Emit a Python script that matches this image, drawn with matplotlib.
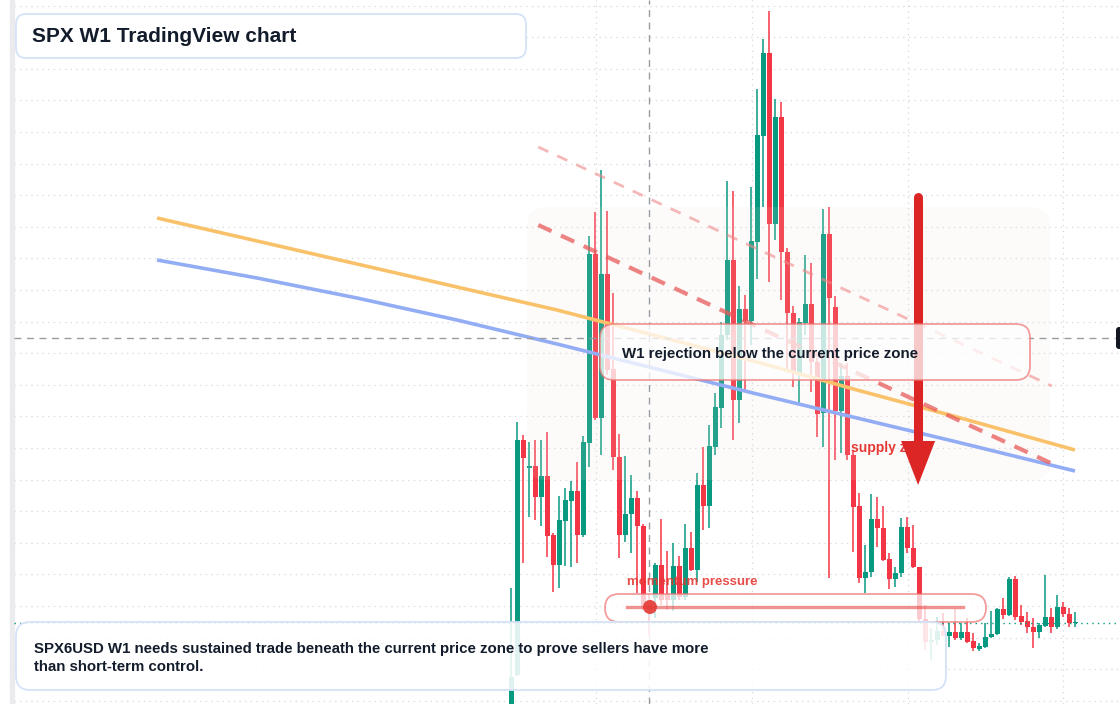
import numpy as np
import matplotlib.pyplot as plt
from matplotlib.patches import FancyBboxPatch, Circle, Polygon

plt.rcParams["font.family"] = ["Liberation Sans", "DejaVu Sans"]

# SPX weekly candles (price units), left to right
opens = [5984, 6029, 6264, 6236, 6238, 6207, 6228, 6169, 6139, 6183,
         6203, 6213, 6169, 6261, 6450, 6286, 6430, 6335, 6247, 6169,
         6190, 6206, 6178, 6104, 6106, 6139, 6110, 6104, 6138, 6107,
         6156, 6134, 6219, 6198, 6257, 6296, 6369, 6444, 6304, 6395,
         6383, 6462, 6568, 6651, 6480, 6587, 6452, 6391, 6331, 6381,
         6400, 6342, 6291, 6470, 6397, 6293, 6328, 6249, 6198, 6126,
         6132, 6185, 6176, 6145, 6125, 6131, 6177, 6156, 6137, 6085,
         6062, 6064, 6073, 6068, 6072, 6066, 6072, 6063, 6055, 6057,
         6067, 6070, 6095, 6089, 6125, 6088, 6083, 6077, 6072, 6078,
         6087, 6077, 6097, 6090, 6081]
highs = [6116, 6282, 6269, 6262, 6264, 6264, 6272, 6171, 6208, 6216,
         6223, 6242, 6268, 6468, 6492, 6534, 6493, 6411, 6270, 6248,
         6229, 6213, 6180, 6110, 6141, 6185, 6153, 6161, 6148, 6180,
         6172, 6231, 6257, 6279, 6311, 6382, 6523, 6513, 6418, 6409,
         6517, 6615, 6665, 6693, 6605, 6602, 6456, 6398, 6386, 6449,
         6441, 6346, 6495, 6497, 6408, 6341, 6341, 6254, 6211, 6159,
         6210, 6207, 6198, 6151, 6137, 6186, 6187, 6179, 6137, 6099,
         6076, 6087, 6091, 6081, 6095, 6081, 6086, 6071, 6061, 6081,
         6093, 6096, 6106, 6127, 6128, 6099, 6092, 6086, 6081, 6129,
         6096, 6109, 6102, 6096, 6092]
lows = [5984, 6028, 6141, 6187, 6184, 6178, 6147, 6112, 6116, 6138,
        6137, 6141, 6167, 6237, 6284, 6249, 6329, 6234, 6146, 6162,
        6151, 6111, 6094, 6069, 6086, 6099, 6094, 6093, 6104, 6104,
        6133, 6122, 6174, 6176, 6249, 6276, 6364, 6264, 6281, 6312,
        6359, 6425, 6497, 6422, 6464, 6404, 6334, 6317, 6301, 6369,
        6312, 6267, 6257, 6126, 6244, 6251, 6244, 6152, 6121, 6111,
        6127, 6157, 6143, 6115, 6117, 6127, 6151, 6136, 6082, 6054,
        6044, 6059, 6068, 6057, 6064, 6064, 6061, 6053, 6053, 6056,
        6066, 6069, 6085, 6088, 6084, 6079, 6071, 6056, 6066, 6077,
        6071, 6075, 6087, 6077, 6077]
closes = [6027, 6264, 6246, 6238, 6207, 6228, 6168, 6139, 6184, 6204,
          6213, 6169, 6262, 6450, 6286, 6430, 6334, 6247, 6169, 6190,
          6206, 6178, 6097, 6092, 6139, 6104, 6104, 6138, 6107, 6156,
          6134, 6219, 6198, 6258, 6297, 6369, 6444, 6304, 6395, 6383,
          6463, 6569, 6651, 6480, 6587, 6452, 6391, 6332, 6382, 6400,
          6342, 6290, 6470, 6406, 6293, 6328, 6249, 6197, 6126, 6132,
          6185, 6176, 6144, 6125, 6131, 6177, 6156, 6137, 6085, 6062,
          6064, 6073, 6068, 6072, 6066, 6072, 6062, 6056, 6058, 6067,
          6070, 6095, 6089, 6125, 6087, 6082, 6077, 6072, 6079, 6087,
          6077, 6097, 6090, 6081, 6081]

# moving averages (bar index, price)
ma_x = [-59.05, -42.38, -25.72, -9.05, 7.62, 24.28, 40.95, 57.62, 74.28, 93.95]
ma_orange_y = [6486, 6463, 6440, 6417, 6394, 6368, 6342, 6314, 6287, 6254]
ma_blue_y = [6444, 6426, 6406, 6384, 6360, 6335, 6310, 6286, 6262, 6233]

# drawn trend lines
trend_upper_x = [4.5, 90.1]
trend_upper_y = [6557, 6318]
trend_lower_x = [4.5, 90.6]
trend_lower_y = [6479, 6239]

# annotation anchors
cross_x, cross_y = 22.95, 6366
arrow_x, arrow_top, arrow_tip = 67.8, 6507, 6219
time_ticks = [14.1, 40.1, 66.1, 92.0]

GREEN = "#089981"
RED = "#f23645"
TEXT = "#131c2b"

W, H = 1120, 704
fig = plt.figure(figsize=(W / 100, H / 100), dpi=100)
ax = fig.add_axes([0, 0, 1, 1])
ax.set_xlim((0 - 511.3) / 6, (W - 511.3) / 6)
ax.set_ylim(6000, 6704)
ax.axis("off")
fig.patch.set_facecolor("white")


def px(x, y):
    # pixel (from top-left) -> axes fraction
    return x / W, 1 - y / H


def inch_box(x0, y0, x1, y1, **kw):
    return FancyBboxPatch((x0 / 100, (H - y1) / 100), (x1 - x0) / 100, (y1 - y0) / 100,
                          transform=fig.dpi_scale_trans, **kw)


# grid
for k in range(23):
    ax.axhline(6698.5 - 31.6 * k, xmin=14 / W, color="#d4d7dd", lw=0.9,
               ls=(0, (1, 3.5)), zorder=0)
for t in time_ticks:
    ax.axvline(t, color="#d4d7dd", lw=0.9, ls=(0, (1, 3.5)), zorder=0)
ax.axvspan((10 - 511.3) / 6, (14 - 511.3) / 6, color="#ebebee", zorder=0)

# candles
o = np.array(opens); c = np.array(closes)
hi = np.array(highs); lo = np.array(lows)
idx = np.arange(len(o))
cols = np.where(c >= o, GREEN, RED)
ax.vlines(idx, lo, hi, colors=cols, lw=1.1, zorder=2)
body = np.maximum(np.abs(c - o), 1.2)
ax.bar(idx, body, bottom=np.minimum(o, c), width=0.8, color=cols, lw=0, zorder=2)

# last price line
ax.axhline(closes[-1], xmin=14 / W, color=GREEN, lw=1, ls=(0, (1, 3)), zorder=2)

# highlighted zone
ax.add_patch(inch_box(527, 207, 1050, 480, boxstyle="round,pad=0,rounding_size=0.2",
                      fc="#f3e2d6", ec="none", alpha=0.12, zorder=3))

# moving averages
ax.plot(ma_x, ma_orange_y, color="#f9c26a", lw=2.6, zorder=4, solid_capstyle="butt")
ax.plot(ma_x, ma_blue_y, color="#93adf5", lw=2.6, zorder=4, solid_capstyle="butt")

# trend lines
ax.plot(trend_upper_x, trend_upper_y, color="#ef8a8a", lw=2.0, alpha=0.6,
        ls=(0, (4, 3.5)), zorder=4)
ax.plot(trend_lower_x, trend_lower_y, color="#e85a5a", lw=3.0, alpha=0.75,
        ls=(0, (3.5, 2.5)), zorder=4)

# crosshair
ax.axvline(cross_x, color="#9a9ca3", lw=1, ls=(0, (5, 4)), zorder=5)
ax.axhline(cross_y, xmin=14 / W, xmax=1115 / W, color="#9a9ca3", lw=1,
           ls=(0, (5, 4)), zorder=5)
ax.add_patch(inch_box(1116, 327, 1128, 349, boxstyle="round,pad=0,rounding_size=0.03",
                      fc="#131722", ec="none", zorder=9))

# supply zone label + arrow
ax.text(*px(851, 448), "supply zone", transform=ax.transAxes, fontsize=10,
        fontweight="bold", color="#e53935", va="center", ha="left", zorder=6)
ax.plot([arrow_x, arrow_x], [arrow_top, arrow_tip + 42], color="#dc2626", lw=6.5,
        solid_capstyle="round", zorder=7)
hw = 17 / 6
ax.add_patch(Polygon([(arrow_x - hw, arrow_tip + 44), (arrow_x + hw, arrow_tip + 44),
                      (arrow_x, arrow_tip)], closed=True, fc="#dc2626", ec="none", zorder=7))

# callout box
ax.add_patch(inch_box(600, 324, 1030, 380, boxstyle="round,pad=0,rounding_size=0.14",
                      fc=(1, 1, 1, 0.75), ec=(0.93, 0.45, 0.45, 0.7), lw=1.3, zorder=8))
ax.text(*px(622, 354), "W1 rejection below the current price zone", transform=ax.transAxes,
        fontsize=10.85, fontweight="bold", color=TEXT, va="center", ha="left", zorder=9)

# momentum pill
ax.text(*px(627, 582), "momentum pressure", transform=ax.transAxes, fontsize=9.5,
        fontweight="bold", color="#e53935", alpha=0.9, va="center", ha="left", zorder=9)
ax.add_patch(inch_box(605, 594, 986, 622, boxstyle="round,pad=0,rounding_size=0.14",
                      fc=(1, 1, 1, 0.75), ec=(0.93, 0.45, 0.45, 0.7), lw=1.3, zorder=8))
ax.plot([(627 - 511.3) / 6, (963 - 511.3) / 6], [6704 - 607] * 2, color="#e53935",
        lw=2.4, alpha=0.55, zorder=9)
ax.add_patch(Circle((650 / 100, (H - 607) / 100), 0.07, transform=fig.dpi_scale_trans,
                    fc="#e53935", ec="none", alpha=0.9, zorder=9))

# title box
ax.add_patch(inch_box(16, 14, 526, 58, boxstyle="round,pad=0,rounding_size=0.1",
                      fc="white", ec="#d5e2f7", lw=1.3, zorder=8))
ax.text(*px(32, 36), "SPX W1 TradingView chart", transform=ax.transAxes, fontsize=15,
        fontweight="bold", color=TEXT, va="center", ha="left", zorder=9)

# bottom note
ax.add_patch(inch_box(16, 622, 946, 690, boxstyle="round,pad=0,rounding_size=0.14",
                      fc=(1, 1, 1, 0.88), ec="#d5e2f7", lw=1.3, zorder=8))
ax.text(*px(34, 658), "SPX6USD W1 needs sustained trade beneath the current price zone to prove sellers have more\n"
        "than short-term control.", transform=ax.transAxes, fontsize=10.85, fontweight="bold",
        color=TEXT, va="center", ha="left", linespacing=1.33, zorder=9)

fig.savefig("out.png", dpi=100)
